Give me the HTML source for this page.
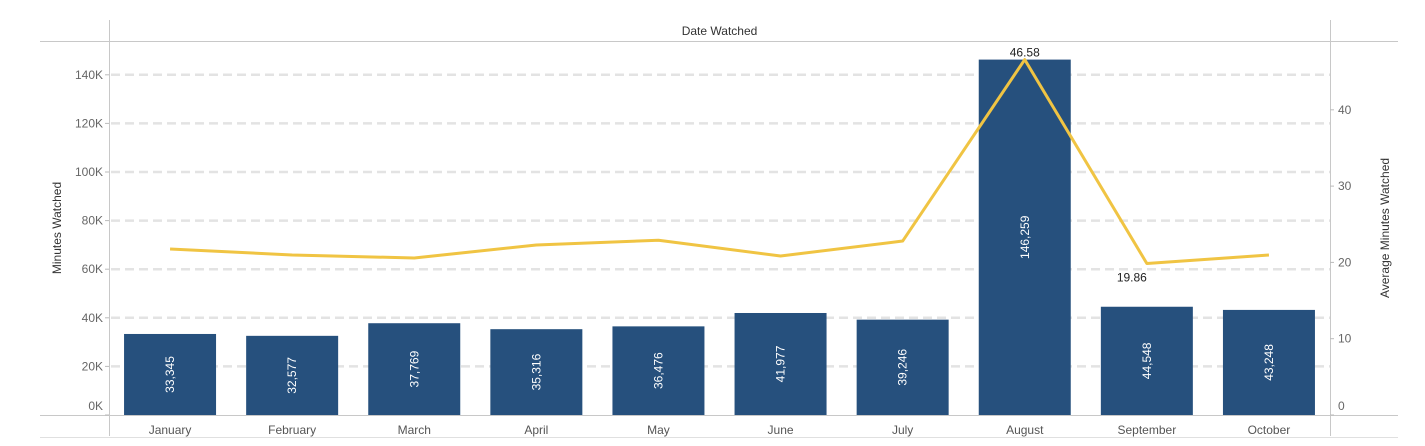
<!DOCTYPE html>
<html><head><meta charset="utf-8"><style>
body{margin:0;background:#fff;font-family:"Liberation Sans",Arial,sans-serif;}
svg text{font-family:"Liberation Sans",Arial,sans-serif;}
</style></head><body>
<svg width="1425" height="441" xmlns="http://www.w3.org/2000/svg">
<g id="root"></g>
</svg>
<script>
const months=["January","February","March","April","May","June","July","August","September","October"];
const minutes=[33345,32577,37769,35316,36476,41977,39246,146259,44548,43248];
const avgMinutes=[21.76,20.97,20.58,22.28,22.9,20.84,22.8,46.58,19.86,20.97];
const leftTicks=[0,20000,40000,60000,80000,100000,120000,140000];
const leftTickLabels=["0K","20K","40K","60K","80K","100K","120K","140K"];
const rightTicks=[0,10,20,30,40];
const NS="http://www.w3.org/2000/svg";
const root=document.getElementById('root');
const X0=109,X1=1330,Y0=415;
const yL=v=>Y0-v/1000*2.43;
const yR=v=>Y0-v*7.63;
const band=(X1-X0)/months.length;
const xc=i=>X0+band*(i+0.5);
function el(tag,attrs,txt){const e=document.createElementNS(NS,tag);for(const k in attrs)e.setAttribute(k,attrs[k]);if(txt!==undefined)e.textContent=txt;root.appendChild(e);return e;}
// frame lines
let e;
e=el('line',{x1:40,x2:1398,y1:41.5,y2:41.5,stroke:'#c8c8c8'});


e=el('line',{x1:40,x2:1398,y1:Y0+0.5,y2:Y0+0.5,stroke:'#c8c8c8'});


e=el('line',{x1:40,x2:1398,y1:437.5,y2:437.5,stroke:'#e0e0e0'});


e=el('line',{x1:X0+0.5,x2:X0+0.5,y1:20,y2:436,stroke:'#c8c8c8'});


e=el('line',{x1:X1+0.5,x2:X1+0.5,y1:20,y2:436,stroke:'#c8c8c8'});


e=el('text',{x:(X0+X1)/2,y:35,'text-anchor':'middle','font-size':12,fill:'#333'},'Date Watched');


// gridlines + left ticks
leftTicks.forEach((t,i)=>{
  const y=yL(t);
  if(t>0){const g=el('line',{x1:X0+2,x2:X1,y1:y,y2:y,stroke:'#e3e3e3','stroke-width':2.5,'stroke-dasharray':'9,5'});
  
  }
  const tk=el('line',{x1:X0-4,x2:X0,y1:y,y2:y,stroke:'#bbb'});
  
  
  const l=el('text',{x:X0-6,y:(t===0?y-5:y+4),'text-anchor':'end','font-size':12,fill:'#666'},leftTickLabels[i]);
  
  
});
rightTicks.forEach(t=>{
  const y=yR(t);
  const tk=el('line',{x1:X1,x2:X1+4,y1:y,y2:y,stroke:'#bbb'});
  
  
  const l=el('text',{x:X1+8,y:(t===0?y-5:y+4),'font-size':12,fill:'#666'},String(t));
  
  
});
e=el('text',{transform:'translate(61,228) rotate(-90)','text-anchor':'middle','font-size':12,fill:'#333'},'Minutes Watched');


e=el('text',{transform:'translate(1389,228) rotate(-90)','text-anchor':'middle','font-size':12,fill:'#333'},'Average Minutes Watched');


// bars
minutes.forEach((v,i)=>{
  const x=xc(i),y=yL(v);
  const b=el('rect',{x:x-46,y:y,width:92,height:Y0-y,fill:'#26507d'});
  
  
  const cy=(y+Y0)/2;
  const t=el('text',{transform:`translate(${x+4},${cy}) rotate(-90)`,'text-anchor':'middle','font-size':12,fill:'#fff'},v.toLocaleString('en-US'));
  
  
  const m=el('text',{x:x,y:434,'text-anchor':'middle','font-size':12,fill:'#555'},months[i]);
  
  
});
// line
const pts=avgMinutes.map((v,i)=>xc(i)+','+yR(v)).join(' ');
e=el('polyline',{points:pts,fill:'none',stroke:'#f0c443','stroke-width':3,'stroke-linejoin':'round'});


// annotations max/min
let mx=0,mn=0;avgMinutes.forEach((v,i)=>{if(v>avgMinutes[mx])mx=i;if(v<avgMinutes[mn])mn=i;});
e=el('text',{x:xc(mx),y:yR(avgMinutes[mx])-3,'text-anchor':'middle','font-size':12,fill:'#222'},avgMinutes[mx].toFixed(2));


e=el('text',{x:xc(mn)-15,y:yR(avgMinutes[mn])+18,'text-anchor':'middle','font-size':12,fill:'#222'},avgMinutes[mn].toFixed(2));


</script>
</body></html>
